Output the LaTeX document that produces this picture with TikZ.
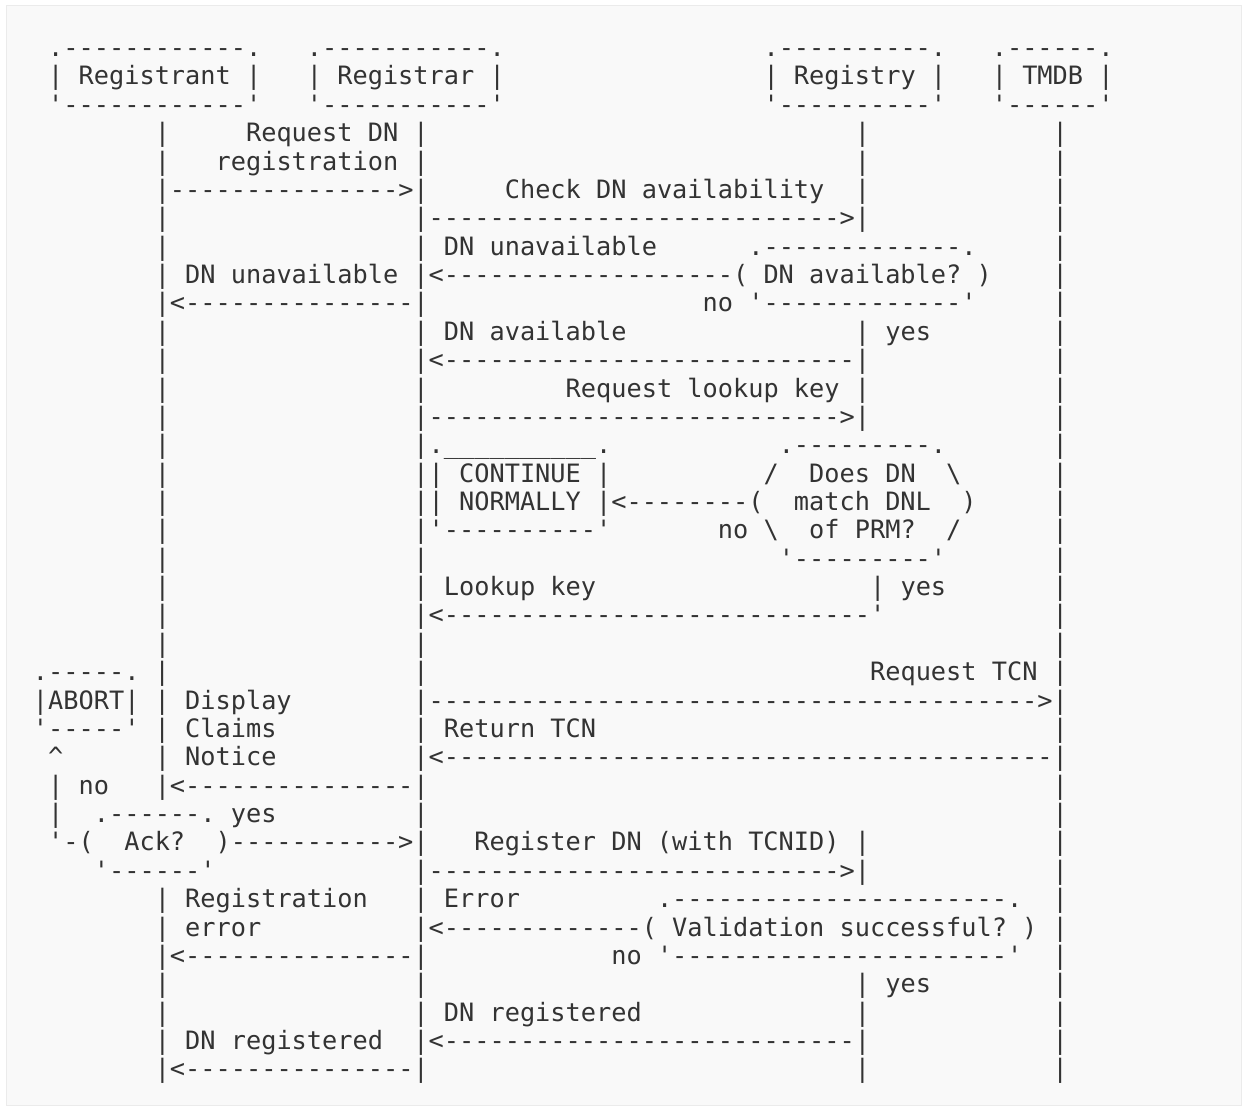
\documentclass[tikz,border=0pt]{standalone}
\usepackage{fontspec}
\setmonofont{DejaVu Sans Mono}
\usepackage{tikz}

\definecolor{ink}{HTML}{333333}
\definecolor{pagefill}{HTML}{F9F9F9}
\definecolor{pageline}{HTML}{EBEBEB}

\newlength\cw
\setlength\cw{7.61pt}
\newcommand\seg[2]{\rlap{\hspace*{#1\cw}#2}}
\newcommand\dashes[1]{\foreach\k in {1,...,#1}{-}}
\newcommand\unders[1]{\foreach\k in {1,...,#1}{\_}}
\newcommand\bs{\textbackslash}

\begin{document}
\begin{tikzpicture}[y=-14.185pt,
  asciirow/.style={anchor=base west, inner sep=0pt, outer sep=0pt, text=ink,
    font=\ttfamily\fontsize{12.64pt}{14pt}\selectfont}]
\useasboundingbox (-16pt,28.3pt) rectangle (605pt,-524.7pt);
\draw [pageline, fill=pagefill, line width=0.5pt] (-12.5pt,25.3pt) rectangle (604.5pt,-524.2pt);
\begin{scope}
% actors
\node [asciirow] (r0) at (0,0) {\seg{1}{.\dashes{12}.}\seg{18}{.\dashes{11}.}\seg{48}{.\dashes{10}.}\seg{63}{.\dashes{6}.}};
\node [asciirow] (r1) at (0,1) {\seg{1}{| Registrant |}\seg{18}{| Registrar |}\seg{48}{| Registry |}\seg{63}{| TMDB |}};
\node [asciirow] (r2) at (0,2) {\seg{1}{'\dashes{12}'}\seg{18}{'\dashes{11}'}\seg{48}{'\dashes{10}'}\seg{63}{'\dashes{6}'}};
% availability check
\node [asciirow] (r3) at (0,3) {\seg{8}{|}\seg{14}{Request DN |}\seg{54}{|}\seg{67}{|}};
\node [asciirow] (r4) at (0,4) {\seg{8}{|}\seg{12}{registration |}\seg{54}{|}\seg{67}{|}};
\node [asciirow] (r5) at (0,5) {\seg{8}{|\dashes{15}>|}\seg{31}{Check DN availability}\seg{54}{|}\seg{67}{|}};
\node [asciirow] (r6) at (0,6) {\seg{8}{|}\seg{25}{|\dashes{27}>|}\seg{67}{|}};
\node [asciirow] (r7) at (0,7) {\seg{8}{|}\seg{25}{| DN unavailable}\seg{47}{.\dashes{13}.}\seg{67}{|}};
\node [asciirow] (r8) at (0,8) {\seg{8}{| DN unavailable |<\dashes{19}( DN available? )}\seg{67}{|}};
\node [asciirow] (r9) at (0,9) {\seg{8}{|<\dashes{15}|}\seg{44}{no '\dashes{13}'}\seg{67}{|}};
\node [asciirow] (r10) at (0,10) {\seg{8}{|}\seg{25}{| DN available}\seg{54}{| yes}\seg{67}{|}};
\node [asciirow] (r11) at (0,11) {\seg{8}{|}\seg{25}{|<\dashes{27}|}\seg{67}{|}};
% lookup key
\node [asciirow] (r12) at (0,12) {\seg{8}{|}\seg{25}{|}\seg{35}{Request lookup key |}\seg{67}{|}};
\node [asciirow] (r13) at (0,13) {\seg{8}{|}\seg{25}{|\dashes{27}>|}\seg{67}{|}};
\node [asciirow] (r14) at (0,14) {\seg{8}{|}\seg{25}{|.\unders{10}.}\seg{49}{.\dashes{9}.}\seg{67}{|}};
\node [asciirow] (r15) at (0,15) {\seg{8}{|}\seg{25}{|| CONTINUE |}\seg{48}{/}\seg{51}{Does DN}\seg{60}{\bs}\seg{67}{|}};
\node [asciirow] (r16) at (0,16) {\seg{8}{|}\seg{25}{|| NORMALLY |<\dashes{8}(}\seg{50}{match DNL}\seg{61}{)}\seg{67}{|}};
\node [asciirow] (r17) at (0,17) {\seg{8}{|}\seg{25}{|'\dashes{10}'}\seg{45}{no \bs}\seg{51}{of PRM?}\seg{60}{/}\seg{67}{|}};
\node [asciirow] (r18) at (0,18) {\seg{8}{|}\seg{25}{|}\seg{49}{'\dashes{9}'}\seg{67}{|}};
\node [asciirow] (r19) at (0,19) {\seg{8}{|}\seg{25}{| Lookup key}\seg{55}{| yes}\seg{67}{|}};
\node [asciirow] (r20) at (0,20) {\seg{8}{|}\seg{25}{|<\dashes{28}'}\seg{67}{|}};
\node [asciirow] (r21) at (0,21) {\seg{8}{|}\seg{25}{|}\seg{67}{|}};
% claims notice
\node [asciirow] (r22) at (0,22) {\seg{0}{.\dashes{5}.}\seg{8}{|}\seg{25}{|}\seg{55}{Request TCN |}};
\node [asciirow] (r23) at (0,23) {\seg{0}{|ABORT|}\seg{8}{| Display}\seg{25}{|\dashes{40}>|}};
\node [asciirow] (r24) at (0,24) {\seg{0}{'\dashes{5}'}\seg{8}{| Claims}\seg{25}{| Return TCN}\seg{67}{|}};
\node [asciirow] (r25) at (0,25) {\seg{1}{\textasciicircum}\seg{8}{| Notice}\seg{25}{|<\dashes{40}|}};
\node [asciirow] (r26) at (0,26) {\seg{1}{| no}\seg{8}{|<\dashes{15}|}\seg{67}{|}};
\node [asciirow] (r27) at (0,27) {\seg{1}{|}\seg{4}{.\dashes{6}.}\seg{13}{yes}\seg{25}{|}\seg{67}{|}};
\node [asciirow] (r28) at (0,28) {\seg{1}{'-(}\seg{6}{Ack?}\seg{12}{)\dashes{11}>|}\seg{29}{Register DN (with TCNID) |}\seg{67}{|}};
\node [asciirow] (r29) at (0,29) {\seg{4}{'\dashes{6}'}\seg{25}{|\dashes{27}>|}\seg{67}{|}};
% validation
\node [asciirow] (r30) at (0,30) {\seg{8}{| Registration}\seg{25}{| Error}\seg{41}{.\dashes{22}.}\seg{67}{|}};
\node [asciirow] (r31) at (0,31) {\seg{8}{| error}\seg{25}{|<\dashes{13}( Validation successful? )}\seg{67}{|}};
\node [asciirow] (r32) at (0,32) {\seg{8}{|<\dashes{15}|}\seg{38}{no '\dashes{22}'}\seg{67}{|}};
\node [asciirow] (r33) at (0,33) {\seg{8}{|}\seg{25}{|}\seg{54}{| yes}\seg{67}{|}};
\node [asciirow] (r34) at (0,34) {\seg{8}{|}\seg{25}{| DN registered}\seg{54}{|}\seg{67}{|}};
\node [asciirow] (r35) at (0,35) {\seg{8}{| DN registered}\seg{25}{|<\dashes{27}|}\seg{67}{|}};
\node [asciirow] (r36) at (0,36) {\seg{8}{|<\dashes{15}|}\seg{54}{|}\seg{67}{|}};
\end{scope}
\end{tikzpicture}
\end{document}
